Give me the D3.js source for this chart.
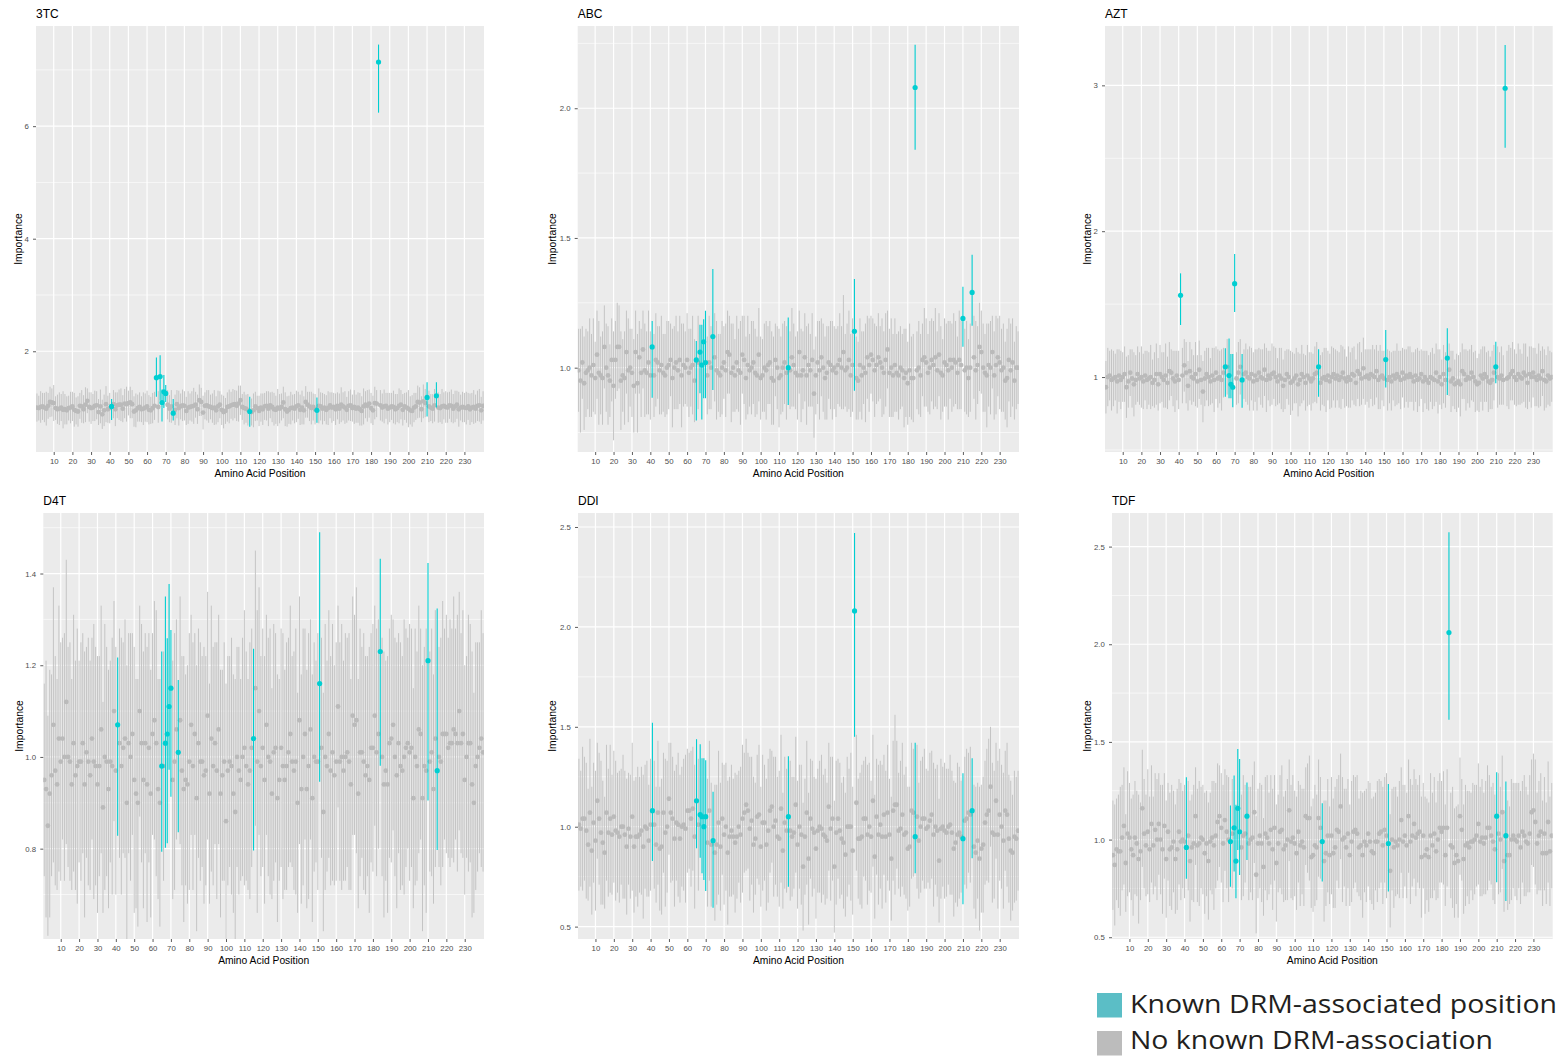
<!doctype html>
<html>
<head>
<meta charset="utf-8">
<title>Importance by amino acid position</title>
<script src="https://d3js.org/d3.v7.min.js"></script>
<style>
  body { margin: 0; background: #fff; }
  svg text { font-family: "Liberation Sans", Arial, Helvetica, sans-serif; }
  .legend text { font-family: "Open Sans", "Noto Sans", sans-serif; }
</style>
</head>
<body>
<svg width="1562" height="1057"></svg>
<script>
// amino acid positions 1..240 (discrete x categories)
var positions = d3.range(1, 241);
var knownPositions = [41, 65, 67, 68, 69, 70, 74, 115, 151, 184, 210, 215];
var xTicks = [10, 20, 30, 40, 50, 60, 70, 80, 90, 100, 110, 120, 130, 140, 150, 160, 170, 180, 190, 200, 210, 220, 230];

// ---- 3TC ----
var mean3TC = [
  1.00,0.99,1.01,1.02,1.00,0.98,1.03,1.10,1.09,1.08,0.99,0.97,0.98,1.00,0.96,0.97,0.95,0.99,1.00,1.02,
  0.96,0.94,0.93,1.03,1.02,0.97,1.05,1.12,1.01,0.99,1.00,1.03,1.04,0.92,1.02,0.88,0.95,1.06,0.97,0.99,
  1.02,1.06,0.97,1.04,1.05,1.05,0.98,1.07,1.06,1.08,1.09,1.06,0.93,0.95,0.99,1.01,0.97,0.98,1.00,1.02,
  0.96,0.95,0.99,1.03,1.53,1.01,1.55,1.09,1.28,1.25,1.05,0.98,1.02,0.90,0.96,1.06,0.99,1.02,1.04,1.03,
  0.94,1.00,1.01,1.02,1.03,1.05,0.97,1.13,1.10,0.91,1.03,1.04,1.02,1.01,0.99,1.00,0.95,1.02,1.05,0.96,
  0.92,0.94,1.01,1.02,1.04,1.05,1.06,1.03,1.07,1.13,1.01,0.99,0.98,0.96,0.93,0.92,0.95,1.02,0.99,0.94,
  1.00,0.97,1.02,1.03,0.98,1.04,1.01,0.97,0.96,1.00,0.98,1.01,1.09,0.97,0.93,0.96,0.99,1.00,0.98,1.02,
  1.04,0.96,1.00,0.95,1.10,1.05,1.02,0.99,1.01,0.97,0.95,1.03,1.02,0.98,1.00,0.96,0.99,1.04,1.00,1.01,
  0.97,1.03,0.98,1.05,1.02,1.00,0.96,1.03,1.04,0.99,1.01,0.98,1.00,0.97,0.94,1.02,1.05,1.03,1.07,0.99,
  0.95,1.08,1.07,7.14,1.04,1.00,1.02,1.03,0.98,1.00,1.02,1.01,0.97,0.99,1.03,1.05,0.96,1.02,1.00,0.98,
  0.95,0.94,1.00,1.02,1.10,1.09,0.97,1.11,1.08,1.18,1.02,1.00,0.98,1.04,1.21,1.00,0.99,1.02,1.03,1.01,
  1.00,1.04,1.03,0.98,1.02,1.05,0.97,1.00,1.01,1.00,0.99,1.02,0.97,1.00,1.01,0.98,1.03,1.04,0.95,1.03
];
var sd3TC = [
  0.25,0.22,0.28,0.24,0.26,0.30,0.23,0.27,0.25,0.32,0.21,0.26,0.29,0.24,0.33,0.27,0.25,0.22,0.28,0.26,
  0.30,0.24,0.27,0.23,0.29,0.25,0.31,0.22,0.26,0.28,0.24,0.27,0.25,0.23,0.30,0.26,0.28,0.32,0.24,0.27,
  0.18,0.25,0.30,0.23,0.27,0.29,0.24,0.26,0.31,0.22,0.28,0.25,0.27,0.30,0.24,0.26,0.23,0.29,0.25,0.28,
  0.26,0.24,0.27,0.25,0.35,0.28,0.40,0.30,0.30,0.22,0.26,0.24,0.29,0.20,0.27,0.25,0.31,0.23,0.28,0.26,
  0.25,0.29,0.24,0.27,0.32,0.23,0.26,0.28,0.25,0.30,0.24,0.27,0.29,0.22,0.26,0.31,0.25,0.28,0.24,0.27,
  0.29,0.23,0.26,0.30,0.24,0.28,0.25,0.27,0.32,0.26,0.23,0.29,0.25,0.28,0.27,0.24,0.30,0.26,0.22,0.27,
  0.25,0.28,0.24,0.26,0.31,0.23,0.27,0.29,0.25,0.33,0.26,0.24,0.28,0.30,0.27,0.25,0.29,0.23,0.26,0.28,
  0.24,0.27,0.30,0.25,0.28,0.23,0.26,0.29,0.24,0.27,0.22,0.31,0.25,0.28,0.24,0.26,0.30,0.23,0.27,0.25,
  0.28,0.24,0.27,0.31,0.25,0.29,0.23,0.26,0.28,0.24,0.30,0.25,0.27,0.29,0.26,0.32,0.24,0.28,0.25,0.27,
  0.26,0.29,0.24,0.60,0.27,0.25,0.30,0.23,0.28,0.26,0.24,0.29,0.27,0.25,0.31,0.26,0.28,0.24,0.27,0.33,
  0.25,0.28,0.26,0.24,0.29,0.27,0.23,0.30,0.25,0.30,0.28,0.24,0.26,0.29,0.22,0.27,0.25,0.31,0.24,0.28,
  0.27,0.24,0.29,0.26,0.28,0.25,0.31,0.23,0.27,0.26,0.29,0.24,0.28,0.26,0.30,0.25,0.27,0.29,0.24,0.26
];
var knownLow3TC  = [0.78, 1.19, 1.12, 0.75, 0.99, 1.10, 0.77, 0.66, 0.73, 6.24, 0.84, 1.00];
var knownHigh3TC = [1.15, 1.89, 1.93, 1.32, 1.58, 1.40, 1.15, 1.19, 1.18, 7.45, 1.45, 1.45];

// ---- ABC ----
var meanABC = [
  0.99,0.95,1.02,0.94,0.98,0.99,1.00,0.97,1.01,0.96,1.05,0.98,0.97,0.96,1.08,1.00,0.97,0.95,1.03,0.93,
  1.03,1.08,1.08,0.95,0.97,0.96,1.06,0.99,1.00,0.98,0.93,1.06,0.94,1.04,0.98,1.07,0.99,0.98,1.02,0.97,
  1.08,0.97,1.03,1.02,0.99,1.01,0.98,0.97,1.00,1.01,1.03,0.96,1.00,1.02,0.99,1.03,0.97,1.01,1.00,1.03,
  0.98,1.00,1.01,0.95,1.03,1.02,1.06,1.01,1.10,1.02,0.97,1.02,1.00,1.12,1.04,0.99,0.98,0.97,1.00,1.02,
  0.99,1.06,1.05,0.98,1.00,0.97,1.02,0.99,0.98,1.05,1.03,0.96,1.01,0.99,1.00,1.02,0.98,0.97,1.05,0.96,
  0.97,1.00,0.99,1.01,1.02,0.96,0.95,1.03,1.00,0.96,0.97,1.00,1.02,0.98,1.00,0.99,1.04,1.01,0.98,0.97,
  1.06,0.97,0.99,1.04,0.97,1.01,0.99,1.03,0.90,0.97,1.02,0.99,1.04,1.00,0.96,0.98,1.02,1.01,0.99,1.00,
  0.98,1.01,1.03,1.00,1.06,0.99,1.00,1.03,0.97,1.01,1.14,0.96,0.95,1.01,0.97,1.00,0.98,1.04,1.01,1.05,
  1.03,0.99,1.01,1.04,1.02,1.00,0.98,1.03,1.07,0.98,1.00,0.97,1.01,0.98,0.97,1.00,0.99,0.96,0.98,0.94,
  0.99,0.96,0.96,2.08,0.99,1.00,0.97,1.03,1.04,1.02,0.98,1.00,1.03,1.01,1.04,0.99,1.05,0.98,0.97,1.02,
  1.01,0.99,1.03,1.00,1.03,1.02,0.98,1.03,1.01,1.19,0.99,1.00,0.96,1.00,1.29,1.04,0.99,1.01,1.08,1.06,
  1.00,0.98,0.97,1.01,1.00,1.06,0.97,1.01,1.04,1.02,0.99,1.00,0.95,0.96,1.03,0.99,1.02,0.95,1.00,1.00
];
var sdABC = [
  0.16,0.20,0.14,0.18,0.17,0.15,0.19,0.16,0.18,0.14,0.17,0.20,0.15,0.18,0.16,0.17,0.19,0.14,0.16,0.21,
  0.15,0.17,0.16,0.19,0.14,0.18,0.16,0.20,0.15,0.17,0.18,0.16,0.19,0.14,0.17,0.15,0.18,0.16,0.20,0.17,
  0.15,0.16,0.18,0.14,0.17,0.19,0.15,0.16,0.18,0.17,0.14,0.19,0.16,0.18,0.15,0.17,0.20,0.16,0.14,0.18,
  0.17,0.15,0.19,0.16,0.15,0.18,0.14,0.16,0.16,0.17,0.15,0.18,0.16,0.23,0.17,0.19,0.15,0.16,0.18,0.14,
  0.18,0.16,0.15,0.19,0.17,0.14,0.18,0.16,0.20,0.15,0.17,0.16,0.19,0.14,0.18,0.16,0.17,0.15,0.18,0.16,
  0.14,0.17,0.19,0.15,0.16,0.18,0.17,0.14,0.16,0.19,0.15,0.17,0.16,0.18,0.17,0.15,0.19,0.16,0.14,0.17,
  0.16,0.18,0.15,0.17,0.19,0.16,0.14,0.18,0.17,0.15,0.16,0.19,0.15,0.17,0.16,0.18,0.14,0.17,0.19,0.16,
  0.17,0.15,0.18,0.16,0.22,0.14,0.17,0.19,0.16,0.18,0.21,0.16,0.15,0.18,0.17,0.14,0.19,0.16,0.18,0.15,
  0.16,0.18,0.15,0.17,0.14,0.19,0.16,0.18,0.15,0.17,0.19,0.16,0.18,0.15,0.17,0.16,0.14,0.19,0.17,0.16,
  0.18,0.16,0.17,0.20,0.15,0.18,0.16,0.14,0.19,0.17,0.15,0.18,0.16,0.17,0.19,0.15,0.16,0.18,0.14,0.17,
  0.16,0.19,0.15,0.17,0.18,0.16,0.14,0.19,0.17,0.12,0.16,0.18,0.15,0.17,0.13,0.16,0.19,0.15,0.17,0.16,
  0.17,0.15,0.20,0.16,0.18,0.14,0.17,0.19,0.15,0.18,0.16,0.17,0.15,0.19,0.16,0.18,0.17,0.15,0.16,0.14
];
var knownLowABC  = [0.884, 0.796, 0.901, 0.80, 0.882, 0.882, 0.914, 0.856, 0.911, 1.84, 1.081, 1.162];
var knownHighABC = [1.18, 1.103, 1.165, 1.165, 1.187, 1.219, 1.38, 1.193, 1.342, 2.245, 1.312, 1.435];

// ---- AZT ----
var meanAZT = [
  0.93,1.00,1.01,0.98,0.99,1.00,0.97,1.01,0.98,1.00,1.02,0.93,0.97,1.03,0.99,0.95,0.98,1.02,0.99,1.00,
  0.97,1.01,0.98,0.99,1.00,0.96,0.98,1.02,0.95,1.02,1.00,0.98,1.01,0.96,1.04,1.03,0.99,0.97,1.01,0.98,
  1.56,1.01,1.08,1.03,0.94,1.04,1.00,0.99,1.02,0.97,1.05,0.98,0.90,0.99,1.02,1.00,0.97,1.01,0.98,1.03,
  0.99,1.00,0.98,1.03,1.07,1.07,1.01,0.95,0.93,1.64,0.99,1.03,1.07,0.98,1.02,1.03,1.00,0.99,1.02,0.97,
  1.01,0.98,1.03,1.00,0.99,1.05,0.98,1.01,0.99,1.02,1.03,1.00,0.97,1.01,0.99,0.94,0.98,1.02,1.00,0.96,
  0.97,0.99,1.01,0.95,0.98,1.02,1.00,0.96,1.01,0.99,0.97,0.99,1.02,1.03,1.07,0.96,0.99,1.00,0.98,1.01,
  0.97,1.00,1.02,0.99,1.01,0.98,1.00,1.03,0.99,0.97,1.00,0.98,1.02,1.01,0.96,1.04,1.02,0.99,1.06,1.00,
  1.01,0.99,1.02,1.01,1.00,1.04,0.98,1.00,1.01,0.99,1.12,0.98,1.00,0.97,1.01,0.99,1.02,1.00,0.98,1.03,
  0.99,1.01,1.00,1.02,1.00,0.97,1.01,0.98,0.99,1.02,0.97,1.00,0.98,0.96,1.00,0.99,0.98,1.03,0.97,1.00,
  0.95,1.02,0.98,1.13,1.05,0.97,0.99,0.95,0.96,0.97,0.95,1.04,1.02,0.98,1.00,0.99,1.03,1.00,0.97,0.95,
  0.96,1.01,0.99,1.02,1.00,0.97,0.96,0.98,1.03,1.07,1.00,0.99,1.01,0.98,2.98,0.99,1.00,1.02,1.04,1.00,
  0.98,1.02,1.00,0.99,1.03,1.01,0.96,1.02,1.00,1.03,1.00,0.98,1.01,0.99,1.04,0.98,0.97,1.01,0.99,1.00
];
var sdAZT = [
  0.18,0.20,0.17,0.21,0.19,0.16,0.22,0.18,0.20,0.17,0.19,0.21,0.18,0.16,0.20,0.22,0.17,0.19,0.18,0.21,
  0.19,0.17,0.20,0.18,0.22,0.16,0.19,0.21,0.18,0.20,0.17,0.19,0.22,0.18,0.20,0.16,0.19,0.21,0.17,0.20,
  0.17,0.19,0.18,0.21,0.17,0.20,0.19,0.16,0.22,0.18,0.20,0.17,0.21,0.19,0.18,0.20,0.16,0.19,0.22,0.18,
  0.20,0.18,0.21,0.17,0.15,0.19,0.13,0.14,0.16,0.20,0.18,0.21,0.19,0.18,0.17,0.20,0.19,0.22,0.18,0.20,
  0.18,0.21,0.17,0.19,0.20,0.18,0.22,0.17,0.19,0.21,0.18,0.20,0.16,0.19,0.21,0.18,0.20,0.17,0.19,0.22,
  0.20,0.17,0.19,0.22,0.18,0.20,0.16,0.19,0.21,0.18,0.20,0.17,0.19,0.21,0.16,0.19,0.18,0.20,0.22,0.17,
  0.19,0.21,0.18,0.20,0.17,0.19,0.22,0.18,0.20,0.17,0.21,0.19,0.18,0.20,0.16,0.19,0.22,0.18,0.21,0.19,
  0.18,0.20,0.17,0.21,0.19,0.18,0.20,0.22,0.17,0.19,0.19,0.21,0.18,0.20,0.17,0.19,0.21,0.18,0.20,0.17,
  0.20,0.18,0.21,0.19,0.17,0.20,0.18,0.22,0.19,0.17,0.21,0.18,0.20,0.19,0.17,0.21,0.18,0.20,0.22,0.19,
  0.17,0.20,0.19,0.20,0.18,0.21,0.19,0.17,0.20,0.18,0.22,0.19,0.17,0.21,0.18,0.20,0.19,0.17,0.21,0.18,
  0.20,0.18,0.22,0.19,0.17,0.21,0.18,0.20,0.19,0.10,0.21,0.18,0.20,0.17,0.35,0.19,0.22,0.18,0.20,0.19,
  0.18,0.21,0.19,0.17,0.20,0.22,0.18,0.19,0.21,0.17,0.20,0.18,0.22,0.19,0.17,0.21,0.18,0.20,0.19,0.17
];
var knownLowAZT  = [1.357, 0.865, 0.854, 0.854, 0.792, 1.446, 0.79, 0.865, 0.929, 0.877, 0.957, 2.573];
var knownHighAZT = [1.711, 1.197, 1.265, 1.158, 1.158, 1.844, 1.158, 1.19, 1.322, 1.334, 1.242, 3.277];

// ---- D4T ----
var meanD4T = [
  0.95,0.93,0.85,0.92,0.96,1.07,0.97,0.94,1.04,0.99,1.04,1.00,1.12,1.00,0.99,0.94,1.03,0.96,0.98,0.99,
  0.99,1.03,0.94,1.01,0.99,0.96,1.04,0.99,0.98,0.94,0.98,1.06,0.89,1.00,0.99,0.93,0.99,0.98,1.10,0.97,
  1.07,1.03,0.98,1.02,1.04,0.90,1.03,1.00,1.05,0.95,0.92,0.90,1.10,1.03,0.95,1.03,0.94,1.02,0.92,1.05,
  1.08,1.03,0.93,0.90,0.98,0.98,1.03,1.05,1.11,1.15,0.95,0.99,1.06,1.01,1.08,0.97,0.93,0.95,0.94,0.99,
  1.07,0.98,1.05,0.91,1.03,0.99,0.99,0.96,0.97,1.09,0.92,1.04,0.98,1.03,0.97,1.06,0.92,0.96,0.99,0.86,
  0.97,0.99,0.98,0.92,0.88,1.00,0.97,0.95,1.00,1.02,0.98,0.94,0.97,1.02,1.04,1.15,0.99,1.10,0.98,1.02,
  0.95,1.07,1.00,0.99,0.92,1.01,1.02,0.91,0.95,1.02,0.98,0.95,0.98,1.01,1.05,0.99,0.97,0.99,0.90,1.08,
  0.93,1.00,1.05,0.93,0.98,1.06,0.91,1.00,0.99,0.99,1.16,1.02,0.88,1.00,0.98,1.05,0.97,1.01,0.96,0.99,
  1.11,0.99,1.00,0.97,1.00,1.01,0.99,0.94,1.09,1.07,1.08,0.92,1.01,1.01,0.99,0.96,0.98,0.95,1.02,1.02,
  1.09,1.01,1.05,1.23,1.00,0.94,0.97,0.94,1.03,1.04,1.07,1.00,0.96,1.03,0.98,0.97,1.00,1.02,1.03,1.01,
  1.02,0.91,1.00,0.98,1.06,1.05,0.91,0.98,0.97,1.21,0.99,1.01,0.93,1.04,0.97,1.00,0.99,1.05,1.05,1.05,
  1.02,1.03,1.03,1.06,1.05,1.03,1.10,1.03,1.05,0.95,1.00,1.03,1.03,0.94,0.90,0.98,1.00,1.02,1.04,1.01
];
var sdD4T = [
  0.21,0.28,0.24,0.27,0.22,0.30,0.25,0.23,0.29,0.26,0.22,0.27,0.31,0.24,0.26,0.23,0.28,0.25,0.30,0.22,
  0.26,0.24,0.29,0.23,0.27,0.25,0.22,0.30,0.26,0.28,0.24,0.27,0.23,0.29,0.25,0.26,0.22,0.28,0.24,0.27,
  0.20,0.25,0.28,0.23,0.26,0.30,0.24,0.27,0.22,0.29,0.25,0.27,0.23,0.26,0.28,0.24,0.30,0.25,0.27,0.22,
  0.26,0.29,0.24,0.27,0.22,0.25,0.28,0.23,0.21,0.18,0.26,0.28,0.24,0.17,0.27,0.25,0.29,0.23,0.26,0.28,
  0.24,0.27,0.22,0.29,0.25,0.26,0.23,0.28,0.25,0.27,0.24,0.29,0.26,0.22,0.28,0.25,0.27,0.23,0.26,0.30,
  0.25,0.23,0.28,0.26,0.29,0.24,0.27,0.22,0.26,0.30,0.25,0.23,0.28,0.26,0.22,0.30,0.33,0.27,0.24,0.26,
  0.27,0.24,0.26,0.29,0.23,0.28,0.25,0.27,0.22,0.26,0.29,0.24,0.27,0.25,0.28,0.23,0.26,0.29,0.24,0.27,
  0.25,0.28,0.23,0.26,0.29,0.24,0.27,0.25,0.22,0.28,0.27,0.24,0.26,0.29,0.23,0.27,0.25,0.28,0.24,0.26,
  0.22,0.26,0.29,0.24,0.27,0.25,0.28,0.23,0.26,0.24,0.29,0.25,0.27,0.23,0.28,0.26,0.24,0.29,0.25,0.27,
  0.24,0.27,0.25,0.23,0.26,0.29,0.24,0.28,0.25,0.27,0.23,0.26,0.29,0.24,0.27,0.25,0.30,0.26,0.23,0.28,
  0.26,0.24,0.28,0.25,0.27,0.23,0.29,0.26,0.31,0.26,0.24,0.27,0.25,0.28,0.26,0.24,0.27,0.29,0.23,0.26,
  0.24,0.27,0.25,0.29,0.23,0.28,0.26,0.24,0.27,0.25,0.22,0.28,0.26,0.29,0.24,0.27,0.25,0.23,0.28,0.26
];
var knownLowD4T  = [0.828, 0.793, 0.802, 0.812, 0.972, 0.913, 0.836, 0.796, 0.946, 0.981, 0.905, 0.797];
var knownHighD4T = [1.217, 1.230, 1.350, 1.259, 1.377, 1.277, 1.168, 1.236, 1.490, 1.432, 1.423, 1.324];

// ---- DDI ----
var meanDDI = [
  1.01,0.99,1.04,1.04,0.98,0.91,1.07,0.88,1.02,0.93,1.13,1.04,0.97,0.92,0.87,1.07,0.97,1.04,0.96,1.05,
  0.98,0.97,0.95,1.00,1.00,0.96,0.90,0.99,0.95,1.05,0.90,0.95,0.95,0.96,0.98,0.90,1.00,0.99,0.93,1.01,
  1.08,1.01,0.91,1.07,0.89,0.90,1.07,0.97,1.00,1.14,1.07,1.04,0.94,1.02,1.01,0.94,1.00,1.01,0.99,1.08,
  1.08,1.04,1.09,0.95,1.13,1.01,1.06,1.05,1.00,1.05,0.92,1.08,0.91,0.93,0.87,0.91,1.02,0.90,1.04,0.96,
  1.00,0.87,0.95,0.98,0.95,0.92,0.95,1.00,0.96,1.04,1.07,1.11,1.08,0.99,1.03,0.91,0.94,1.05,1.06,0.90,
  1.02,1.02,0.91,0.98,1.08,1.10,1.00,1.03,0.95,0.94,1.09,0.88,1.02,0.98,1.05,0.98,0.95,0.97,1.11,0.91,
  1.00,0.96,0.80,0.95,1.07,0.84,1.04,0.99,0.97,0.89,0.98,1.00,0.99,0.96,0.95,0.93,1.10,0.99,1.04,0.80,
  0.97,1.04,0.98,0.94,0.92,0.86,1.00,1.00,1.00,0.88,2.08,1.12,0.94,0.94,0.95,1.04,1.04,0.96,1.00,0.95,
  1.13,0.85,1.05,0.96,1.01,0.95,1.06,0.95,1.07,0.96,0.84,1.08,1.11,1.11,0.98,0.99,1.06,0.96,0.97,0.89,
  0.90,1.08,1.07,0.95,1.05,0.93,1.00,1.04,1.04,0.99,1.00,1.03,1.06,0.96,1.00,0.98,0.83,0.99,1.00,0.98,
  0.97,1.00,1.01,0.97,0.89,0.92,0.96,0.97,0.95,0.94,1.03,1.04,1.07,1.06,1.08,0.90,0.87,0.93,0.84,0.89,
  0.91,1.02,1.06,1.08,1.20,0.97,0.96,1.13,0.96,1.06,1.00,0.93,1.08,1.06,0.94,0.88,0.87,0.95,0.94,0.98
];
var sdDDI = [
  0.33,0.29,0.36,0.31,0.34,0.28,0.37,0.32,0.30,0.35,0.29,0.33,0.36,0.31,0.28,0.34,0.32,0.37,0.30,0.33,
  0.35,0.30,0.33,0.29,0.36,0.32,0.34,0.28,0.31,0.37,0.33,0.30,0.35,0.29,0.32,0.36,0.31,0.34,0.28,0.33,
  0.35,0.32,0.29,0.36,0.31,0.34,0.30,0.37,0.33,0.28,0.35,0.31,0.34,0.29,0.36,0.32,0.30,0.33,0.37,0.31,
  0.29,0.34,0.31,0.36,0.27,0.33,0.26,0.29,0.30,0.30,0.32,0.35,0.31,0.29,0.34,0.30,0.36,0.32,0.28,0.35,
  0.32,0.36,0.30,0.33,0.29,0.35,0.31,0.28,0.34,0.37,0.30,0.33,0.29,0.36,0.32,0.34,0.28,0.31,0.35,0.30,
  0.34,0.29,0.33,0.36,0.31,0.28,0.35,0.32,0.30,0.34,0.37,0.29,0.33,0.31,0.32,0.35,0.30,0.28,0.34,0.32,
  0.31,0.35,0.32,0.29,0.36,0.33,0.30,0.34,0.28,0.35,0.31,0.33,0.37,0.30,0.34,0.29,0.32,0.36,0.31,0.33,
  0.36,0.30,0.34,0.28,0.33,0.31,0.35,0.29,0.37,0.32,0.51,0.34,0.30,0.33,0.36,0.29,0.31,0.35,0.32,0.28,
  0.33,0.31,0.29,0.35,0.32,0.36,0.30,0.33,0.34,0.28,0.31,0.35,0.45,0.32,0.29,0.34,0.36,0.30,0.33,0.31,
  0.30,0.34,0.32,0.33,0.36,0.29,0.33,0.31,0.35,0.30,0.28,0.34,0.32,0.36,0.29,0.33,0.31,0.35,0.30,0.34,
  0.32,0.29,0.35,0.31,0.34,0.30,0.36,0.33,0.28,0.33,0.32,0.35,0.30,0.34,0.25,0.31,0.33,0.29,0.36,0.32,
  0.34,0.31,0.33,0.36,0.30,0.35,0.32,0.29,0.37,0.33,0.31,0.34,0.30,0.36,0.32,0.35,0.29,0.33,0.31,0.30
];
var knownLowDDI  = [0.828, 0.892, 0.845, 0.767, 0.733, 0.678, 0.595, 0.70, 1.45, 0.767, 0.612, 0.842];
var knownHighDDI = [1.52, 1.438, 1.413, 1.342, 1.342, 1.333, 1.175, 1.353, 2.47, 1.42, 1.267, 1.342];

// ---- TDF ----
var meanTDF = [
  0.92,0.87,0.95,0.94,0.94,1.01,1.07,0.88,1.03,1.01,0.95,0.92,1.01,0.98,0.90,0.94,1.16,1.03,0.97,1.04,
  0.95,1.08,0.97,1.05,1.00,1.08,1.00,0.95,1.07,0.90,1.04,0.95,0.96,0.99,0.90,0.95,1.04,0.99,1.00,0.99,
  0.96,1.02,0.89,0.96,0.98,1.12,0.97,0.98,1.01,1.00,0.93,0.98,0.89,0.99,1.01,0.97,1.02,1.09,1.12,1.06,
  0.98,1.10,1.04,1.00,0.99,1.03,1.06,0.89,1.16,1.04,0.96,1.02,1.03,1.12,0.98,1.00,1.01,1.14,0.82,0.98,
  1.02,0.98,0.86,1.03,1.01,0.98,1.05,0.95,1.06,0.88,0.98,1.04,1.05,0.95,0.97,1.00,1.15,0.99,1.01,0.98,
  0.93,1.04,0.97,0.99,0.96,1.12,1.11,1.11,0.91,0.92,0.97,0.96,1.11,1.06,0.99,0.89,0.93,1.02,0.92,1.02,
  0.93,0.96,1.05,1.04,1.17,1.00,1.01,0.96,1.03,0.92,0.99,1.04,1.05,1.03,0.96,0.97,0.92,0.99,0.97,1.03,
  0.99,0.94,0.93,0.99,0.99,1.03,1.04,0.97,1.05,1.02,0.98,0.84,1.00,0.96,0.99,0.97,1.00,1.10,0.99,1.02,
  0.97,1.12,0.99,1.02,1.08,1.01,1.03,1.04,0.91,1.02,0.92,0.95,0.91,1.02,0.97,1.03,0.94,1.00,1.06,1.04,
  1.06,0.92,1.06,2.06,0.97,0.96,0.88,0.92,0.89,1.12,1.05,0.90,0.97,0.98,0.96,0.99,0.99,1.00,1.02,1.08,
  0.99,1.01,0.98,1.01,1.06,1.06,1.02,0.99,0.95,1.12,1.03,1.00,1.14,0.89,1.02,0.92,0.92,1.00,1.02,1.00,
  0.99,1.02,0.96,1.04,1.02,0.99,0.98,1.03,1.14,1.15,1.09,0.98,1.02,1.04,0.93,1.03,0.93,1.09,0.94,1.02
];
var sdTDF = [
  0.28,0.31,0.26,0.29,0.33,0.27,0.30,0.25,0.32,0.28,0.26,0.31,0.29,0.27,0.33,0.25,0.30,0.28,0.26,0.32,
  0.27,0.30,0.25,0.29,0.31,0.26,0.28,0.33,0.27,0.30,0.25,0.29,0.32,0.26,0.28,0.31,0.27,0.30,0.25,0.29,
  0.26,0.28,0.31,0.27,0.30,0.25,0.29,0.32,0.26,0.28,0.31,0.27,0.30,0.25,0.29,0.33,0.27,0.30,0.26,0.28,
  0.30,0.26,0.29,0.32,0.21,0.28,0.25,0.25,0.26,0.30,0.27,0.31,0.25,0.20,0.29,0.27,0.32,0.26,0.30,0.28,
  0.27,0.30,0.25,0.29,0.32,0.26,0.28,0.31,0.27,0.30,0.25,0.29,0.33,0.27,0.28,0.31,0.26,0.29,0.32,0.27,
  0.29,0.26,0.31,0.27,0.30,0.25,0.28,0.32,0.26,0.29,0.31,0.27,0.30,0.26,0.20,0.31,0.27,0.29,0.25,0.30,
  0.28,0.31,0.26,0.29,0.27,0.32,0.25,0.30,0.28,0.26,0.31,0.29,0.27,0.30,0.25,0.28,0.32,0.26,0.29,0.27,
  0.30,0.27,0.29,0.25,0.31,0.28,0.26,0.30,0.27,0.32,0.27,0.29,0.26,0.31,0.28,0.25,0.30,0.27,0.29,0.26,
  0.27,0.29,0.32,0.26,0.28,0.30,0.25,0.29,0.31,0.27,0.30,0.26,0.28,0.32,0.27,0.29,0.25,0.30,0.28,0.26,
  0.29,0.26,0.30,0.48,0.27,0.31,0.28,0.25,0.29,0.30,0.26,0.28,0.31,0.27,0.29,0.25,0.30,0.28,0.26,0.31,
  0.28,0.30,0.26,0.29,0.32,0.27,0.25,0.30,0.28,0.28,0.31,0.27,0.29,0.26,0.30,0.28,0.25,0.31,0.27,0.29,
  0.30,0.27,0.29,0.26,0.31,0.28,0.25,0.30,0.27,0.29,0.32,0.26,0.28,0.30,0.27,0.29,0.26,0.31,0.28,0.27
];
var knownLowTDF  = [0.799, 0.759, 0.836, 0.70, 0.947, 0.819, 0.896, 0.785, 0.734, 1.613, 0.782, 0.686];
var knownHighTDF = [1.319, 1.174, 1.328, 1.178, 1.464, 1.413, 1.292, 1.186, 1.285, 2.573, 1.345, 1.297];

// y axis ticks per panel
var yTicks3TC = [2, 4, 6],            yMinor3TC = [1, 3, 5, 7];
var yTicksABC = [1.0, 1.5, 2.0],      yMinorABC = [0.75, 1.25, 1.75, 2.25];
var yTicksAZT = [1, 2, 3],            yMinorAZT = [0.5, 1.5, 2.5];
var yTicksD4T = [0.8, 1.0, 1.2, 1.4], yMinorD4T = [0.7, 0.9, 1.1, 1.3, 1.5];
var yTicksDDI = [0.5, 1.0, 1.5, 2.0, 2.5], yMinorDDI = [0.75, 1.25, 1.75, 2.25];
var yTicksTDF = [0.5, 1.0, 1.5, 2.0, 2.5], yMinorTDF = [0.75, 1.25, 1.75, 2.25];

var legendLabels = ["Known DRM-associated position", "No known DRM-association"];

// panel layout (pixel boxes and y ranges)
var panels = [
  { name: "3TC", mean: mean3TC, sd: sd3TC, lo: knownLow3TC, hi: knownHigh3TC, ticks: yTicks3TC, minor: yMinor3TC, fmt: "d",
    yDomain: [0.21, 7.78], left: 36, right: 484, top: 26, bottom: 452, yTitleX: 18.3 },
  { name: "ABC", mean: meanABC, sd: sdABC, lo: knownLowABC, hi: knownHighABC, ticks: yTicksABC, minor: yMinorABC, fmt: ".1f",
    yDomain: [0.675, 2.317], left: 577.7, right: 1019, top: 26, bottom: 452, yTitleX: 552.5 },
  { name: "AZT", mean: meanAZT, sd: sdAZT, lo: knownLowAZT, hi: knownHighAZT, ticks: yTicksAZT, minor: yMinorAZT, fmt: "d",
    yDomain: [0.486, 3.407], left: 1105, right: 1552.7, top: 26, bottom: 452, yTitleX: 1087 },
  { name: "D4T", mean: meanD4T, sd: sdD4T, lo: knownLowD4T, hi: knownHighD4T, ticks: yTicksD4T, minor: yMinorD4T, fmt: ".1f",
    yDomain: [0.603, 1.532], left: 43.3, right: 484, top: 513, bottom: 939, yTitleX: 19.2 },
  { name: "DDI", mean: meanDDI, sd: sdDDI, lo: knownLowDDI, hi: knownHighDDI, ticks: yTicksDDI, minor: yMinorDDI, fmt: ".1f",
    yDomain: [0.438, 2.57], left: 578, right: 1019, top: 513, bottom: 939, yTitleX: 552.5 },
  { name: "TDF", mean: meanTDF, sd: sdTDF, lo: knownLowTDF, hi: knownHighTDF, ticks: yTicksTDF, minor: yMinorTDF, fmt: ".1f",
    yDomain: [0.491, 2.672], left: 1112, right: 1552.7, top: 513, bottom: 939, yTitleX: 1087 }
];

var cyan = "#00ced1", greyBar = "#c4c4c4", greyPt = "#bababa";
var svg = d3.select("svg");

panels.forEach(function (p, k) {
  var x = d3.scalePoint().domain(positions).range([p.left, p.right]).padding(0.5);
  var y = d3.scaleLinear().domain(p.yDomain).range([p.bottom, p.top]);
  var g = svg.append("g");

  g.append("clipPath").attr("id", "clip" + k)
    .append("rect").attr("x", p.left).attr("y", p.top)
    .attr("width", p.right - p.left).attr("height", p.bottom - p.top);

  g.append("rect")
    .attr("x", p.left).attr("y", p.top)
    .attr("width", p.right - p.left).attr("height", p.bottom - p.top)
    .attr("fill", "#ebebeb");

  // grid
  g.selectAll(".minor").data(p.minor).enter().append("line")
    .attr("x1", p.left).attr("x2", p.right)
    .attr("y1", d => y(d)).attr("y2", d => y(d))
    .attr("stroke", "#fff").attr("stroke-width", 0.6);
  g.selectAll(".major").data(p.ticks).enter().append("line")
    .attr("x1", p.left).attr("x2", p.right)
    .attr("y1", d => y(d)).attr("y2", d => y(d))
    .attr("stroke", "#fff").attr("stroke-width", 1.2);
  g.selectAll(".vmajor").data(xTicks).enter().append("line")
    .attr("x1", d => x(d)).attr("x2", d => x(d))
    .attr("y1", p.top).attr("y2", p.bottom)
    .attr("stroke", "#fff").attr("stroke-width", 1.2);

  var rows = positions.map(function (pos, i) {
    return { pos: pos, mean: p.mean[i], lo: p.mean[i] - p.sd[i], hi: p.mean[i] + p.sd[i] };
  }).filter(d => knownPositions.indexOf(d.pos) < 0);
  var known = knownPositions.map(function (pos, i) {
    return { pos: pos, mean: p.mean[pos - 1], lo: p.lo[i], hi: p.hi[i] };
  });

  var marks = g.append("g").attr("clip-path", "url(#clip" + k + ")");

  marks.selectAll(".gbar").data(rows).enter().append("line")
    .attr("x1", d => x(d.pos)).attr("x2", d => x(d.pos))
    .attr("y1", d => y(d.lo)).attr("y2", d => y(d.hi))
    .attr("stroke", greyBar).attr("stroke-width", 1);
  marks.selectAll(".gpt").data(rows).enter().append("circle")
    .attr("cx", d => x(d.pos)).attr("cy", d => y(d.mean))
    .attr("r", 2.4).attr("fill", greyPt);

  marks.selectAll(".cbar").data(known).enter().append("line")
    .attr("x1", d => x(d.pos)).attr("x2", d => x(d.pos))
    .attr("y1", d => y(d.lo)).attr("y2", d => y(d.hi))
    .attr("stroke", cyan).attr("stroke-width", 1.1);
  marks.selectAll(".cpt").data(known).enter().append("circle")
    .attr("cx", d => x(d.pos)).attr("cy", d => y(d.mean))
    .attr("r", 2.6).attr("fill", cyan);

  // axes
  var ax = g.append("g").attr("transform", "translate(0," + p.bottom + ")")
    .call(d3.axisBottom(x).tickValues(xTicks).tickSize(3).tickPadding(3.3));
  var ay = g.append("g").attr("transform", "translate(" + p.left + ",0)")
    .call(d3.axisLeft(y).tickValues(p.ticks).tickFormat(d3.format(p.fmt)).tickSize(3).tickPadding(4.2));
  [ax, ay].forEach(function (a) {
    a.select(".domain").remove();
    a.attr("font-family", "Liberation Sans, Arial, sans-serif").attr("font-size", 7.8);
    a.selectAll(".tick line").attr("stroke", "#333333").attr("stroke-width", 0.8);
    a.selectAll(".tick text").attr("fill", "#4d4d4d");
  });

  // titles
  g.append("text").attr("x", p.left).attr("y", p.top - 8)
    .attr("font-size", 12).attr("fill", "#000").text(p.name);
  g.append("text").attr("x", (p.left + p.right) / 2).attr("y", p.bottom + 25)
    .attr("text-anchor", "middle").attr("font-size", 10.3).attr("fill", "#000")
    .text("Amino Acid Position");
  g.append("text")
    .attr("transform", "translate(" + (p.yTitleX + 3.7) + "," + ((p.top + p.bottom) / 2) + ") rotate(-90)")
    .attr("text-anchor", "middle").attr("font-size", 10.3).attr("fill", "#000")
    .text("Importance");
});

// legend
var legend = svg.append("g").attr("class", "legend");
var legendColors = ["#5bbec6", "#bcbcbc"];
var legendWidths = [427, 363];
legendLabels.forEach(function (lab, i) {
  legend.append("rect").attr("x", 1097).attr("y", 993 + i * 38)
    .attr("width", 25).attr("height", 24.5).attr("fill", legendColors[i]);
  legend.append("text").attr("x", 1130).attr("y", 1013 + i * 36)
    .attr("font-size", 26).attr("fill", "#231f20")
    .attr("textLength", legendWidths[i]).attr("lengthAdjust", "spacingAndGlyphs")
    .text(lab);
});
</script>
</body>
</html>
